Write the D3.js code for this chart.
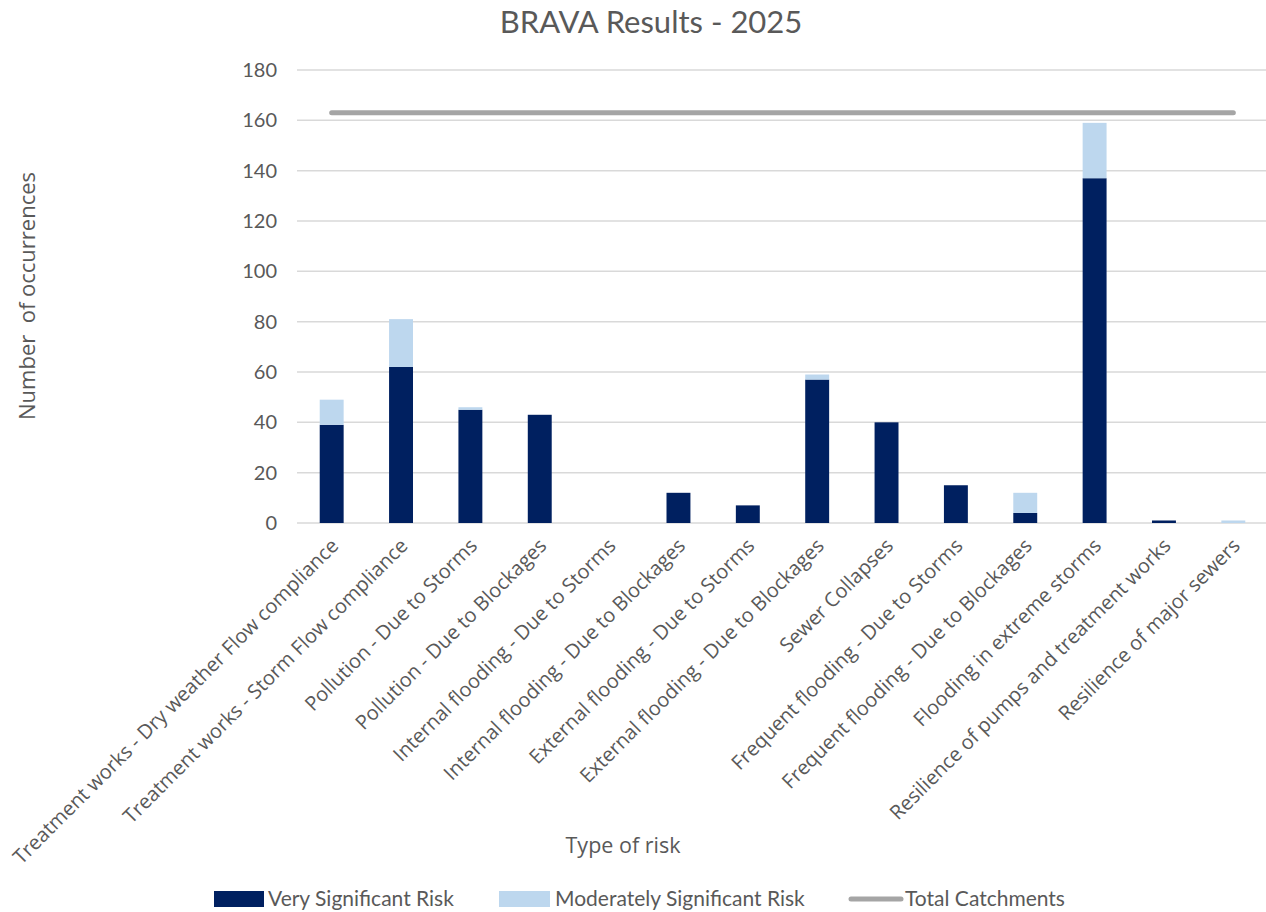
<!DOCTYPE html>
<html lang="en">
<head>
<meta charset="UTF-8">
<title>BRAVA Results - 2025</title>
<script src="https://cdn.jsdelivr.net/npm/d3@7"></script>
<style>
  body { margin: 0; background: #fff; }
  svg text { fill: #595959; }
</style>
</head>
<body>
<svg id="chart" width="1266" height="912"></svg>
<script>
    // data
    const categories = [
        "Treatment works - Dry weather Flow compliance",
        "Treatment works - Storm Flow compliance",
        "Pollution - Due to Storms",
        "Pollution - Due to Blockages",
        "Internal flooding - Due to Storms",
        "Internal flooding - Due to Blockages",
        "External flooding - Due to Storms",
        "External flooding - Due to Blockages",
        "Sewer Collapses",
        "Frequent flooding - Due to Storms",
        "Frequent flooding - Due to Blockages",
        "Flooding in extreme storms",
        "Resilience of pumps and treatment works",
        "Resilience of major sewers"
    ];
    const verySignificant = [39, 62, 45, 43, 0, 12, 7, 57, 40, 15, 4, 137, 1, 0];
    const moderatelySignificant = [10, 19, 1, 0, 0, 0, 0, 2, 0, 0, 8, 22, 0, 1];
    const totalCatchments = 163;
    const yTicks = [0, 20, 40, 60, 80, 100, 120, 140, 160, 180];

    const seriesNames = ["Very Significant Risk", "Moderately Significant Risk"];
    const colors = { "Very Significant Risk": "#002060", "Moderately Significant Risk": "#BDD7EE" };
    const labelFont = "'Open Sans', sans-serif";
    const narrowFont = "'Liberation Sans Narrow', 'Lato', sans-serif";

    const svg = d3.select("#chart");
    const plotLeft = 297, plotRight = 1268, plotTop = 70, plotBottom = 523;

    const x = d3.scaleBand().domain(categories).range([plotLeft, plotRight]).paddingInner(0.655).paddingOuter(0.3275);
    const y = d3.scaleLinear().domain([0, 180]).range([plotBottom, plotTop]);

    // title
    svg.append("text")
        .attr("x", 651).attr("y", 33)
        .attr("text-anchor", "middle")
        .attr("font-family", narrowFont)
        .attr("font-size", 31)
        .text("BRAVA Results - 2025");

    // gridlines
    svg.append("g").selectAll("line")
        .data(yTicks)
        .enter().append("line")
        .attr("x1", plotLeft).attr("x2", 1266)
        .attr("y1", d => y(d)).attr("y2", d => y(d))
        .attr("stroke", "#D9D9D9").attr("stroke-width", 1.5);

    // y axis labels
    const yAxis = svg.append("g")
        .attr("transform", `translate(${plotLeft - 20},0)`)
        .call(d3.axisLeft(y).tickValues(yTicks).tickSize(0).tickPadding(0));
    yAxis.select(".domain").remove();
    yAxis.selectAll("text")
        .attr("font-family", narrowFont)
        .attr("font-size", 20)
        .attr("fill", "#595959");

    // stacked bars
    const rows = categories.map((c, i) => ({
        category: c,
        "Very Significant Risk": verySignificant[i],
        "Moderately Significant Risk": moderatelySignificant[i]
    }));
    const stacked = d3.stack().keys(seriesNames)(rows);

    svg.append("g").selectAll("g")
        .data(stacked)
        .enter().append("g")
        .attr("fill", d => colors[d.key])
        .selectAll("rect")
        .data(d => d)
        .enter().append("rect")
        .attr("x", d => x(d.data.category))
        .attr("width", x.bandwidth())
        .attr("y", d => y(d[1]))
        .attr("height", d => y(d[0]) - y(d[1]));

    // total catchments line
    const line = d3.line()
        .x(d => x(d) + x.bandwidth() / 2)
        .y(() => y(totalCatchments));
    svg.append("path")
        .datum(categories)
        .attr("d", line)
        .attr("fill", "none")
        .attr("stroke", "#A5A5A5")
        .attr("stroke-width", 5)
        .attr("stroke-linecap", "round");

    // x axis category labels
    svg.append("g").selectAll("text")
        .data(categories)
        .enter().append("text")
        .attr("transform", d => `translate(${x(d) + x.bandwidth() / 2 + 8},${plotBottom + 24}) rotate(-45)`)
        .attr("text-anchor", "end")
        .attr("font-family", labelFont)
        .attr("font-size", 20)
        .text(d => d);

    // axis titles
    svg.append("text")
        .attr("transform", "translate(35,296) rotate(-90)")
        .attr("text-anchor", "middle")
        .attr("font-family", labelFont)
        .attr("font-size", 22)
        .attr("xml:space", "preserve")
        .text("Number  of occurrences");

    svg.append("text")
        .attr("x", 623).attr("y", 853)
        .attr("text-anchor", "middle")
        .attr("font-family", labelFont)
        .attr("font-size", 21.5)
        .text("Type of risk");

    // legend
    const legend = svg.append("g").attr("font-family", narrowFont).attr("font-size", 21);
    legend.append("rect").attr("x", 214).attr("y", 891).attr("width", 50).attr("height", 16).attr("fill", colors["Very Significant Risk"]);
    legend.append("text").attr("x", 268).attr("y", 906).text("Very Significant Risk");
    legend.append("rect").attr("x", 499).attr("y", 891).attr("width", 51).attr("height", 16).attr("fill", colors["Moderately Significant Risk"]);
    legend.append("text").attr("x", 555).attr("y", 906).text("Moderately Significant Risk");
    legend.append("line").attr("x1", 851).attr("x2", 901).attr("y1", 899).attr("y2", 899)
        .attr("stroke", "#A5A5A5").attr("stroke-width", 5).attr("stroke-linecap", "round");
    legend.append("text").attr("x", 905).attr("y", 906).text("Total Catchments");
</script>
</body>
</html>
